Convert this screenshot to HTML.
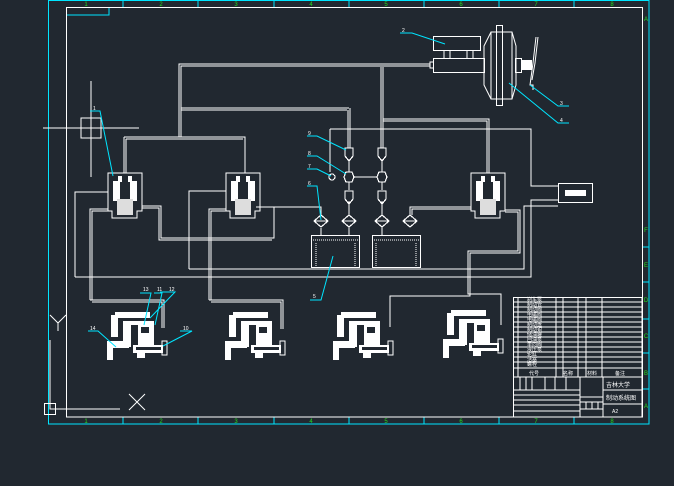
<!DOCTYPE html>
<html><head><meta charset="utf-8"><style>
html,body{margin:0;padding:0;background:#212830;}
svg{display:block}
text{font-family:"Liberation Sans","Noto Sans CJK SC",sans-serif;}
</style></head><body>
<svg width="674" height="486" viewBox="0 0 674 486" xmlns="http://www.w3.org/2000/svg">
<rect width="674" height="486" fill="#212830"/>
<g shape-rendering="crispEdges">
<!-- frames -->
<g fill="none" stroke="#00e5ff" stroke-width="1.2">
<rect x="48.5" y="0.5" width="600.5" height="423.5"/>
<path d="M109,7V15H66.5"/>
<path d="M123,0V7M198,0V7M274,0V7M349,0V7M424,0V7M499,0V7M574,0V7"/>
<path d="M123,417V424M198,417V424M274,417V424M349,417V424M424,417V424M499,417V424M574,417V424"/>
<path d="M642,247H649M642,282H649M642,319H649M642,353H649M642,389H649"/>
</g>
<rect x="66.5" y="7.5" width="576" height="409.5" fill="none" stroke="#fff" stroke-width="1"/>
<!-- crosshair etc -->
<g stroke="#fff" fill="none" stroke-width="1">
<path d="M43,128H139M91,81V177"/><rect x="81" y="118" width="20" height="20"/>
<path d="M50,340V409H120"/><rect x="44.5" y="403.5" width="11" height="11"/>
</g>
<!-- pipes -->
<g stroke="#fff" fill="none" stroke-width="1">
<path d="M179,137V64H430M181,137V66H430M181,108H349M181,110H347"/>
<path d="M348,110V148M350,108V148"/>
<path d="M124,137V173M126,139V173M124,137H245V173M126,139H243"/>
<path d="M381,67V148M383,67V148M383,119H489V173M383,121H487V173"/>
<path d="M330,129H531V186H558M330,129V172"/>
<path d="M349,160V172M349,182V190M349,201V215M349,227V235M382,160V172M382,182V190M382,201V215M382,227V235M354,177H377"/>
<path d="M75,277V192H108M189,269V191H226M75,277H531V200H558M189,269H524V206H558"/>
<path d="M90,300V209H108M92,300V211H108M90,300H164V328M92,302H162V328"/>
<path d="M142,206H161V238H274V207H256M142,208H159V240H272"/>
<path d="M209,300V209H226M211,300V211H226M209,300H283V329M211,302H281V329"/>
<path d="M256,207H321V215M321,228V235M410,215V207H471M412,215V209H471"/>
<path d="M505,210H520V253H470V296H390V327M505,212H518V251H468V294H501V325"/>
</g>
<!-- solenoids -->
<g id="sol">
<path d="M108,173H142V211H137V218H112V211H108Z" fill="none" stroke="#fff"/>
<rect x="113" y="181" width="24" height="20" fill="#fff"/>
<rect x="120" y="181" width="10" height="19" fill="#212830"/>
<rect x="117" y="199" width="16" height="16" fill="#ddd"/>
<rect x="118" y="176" width="4" height="6" fill="#fff"/><rect x="128" y="176" width="4" height="6" fill="#fff"/>
</g>
<use href="#sol" transform="translate(118,0)"/>
<use href="#sol" transform="translate(363,0)"/>
<!-- valves -->
<g fill="none" stroke="#fff" stroke-width="1.2">
<g id="vcol">
<path d="M345,148H353V156L349,161L345,156Z"/>
<path d="M344,177L346,172H352L354,177L352,182H346Z"/>
<path d="M345,191H353V199L349,204L345,199Z"/>
<path d="M342,221L349,215L356,221L349,227Z M342,221H356"/>
</g>
<use href="#vcol" transform="translate(33,0)"/>
<path d="M314,221L321,215L328,221L321,227Z M314,221H328"/>
<path d="M403,221L410,215L417,221L410,227Z M403,221H417"/>
<circle cx="332" cy="177" r="3"/>
<rect x="311.5" y="235.5" width="48" height="32"/>
<rect x="372.5" y="235.5" width="48" height="32"/>
<path d="M311,240H359M372,240H420M316,243V267M355,243V267M376,243V267M416,243V267" stroke-dasharray="1 1"/>
</g>
<!-- ECU -->
<rect x="558.5" y="183.5" width="34" height="19" fill="none" stroke="#fff"/>
<rect x="565" y="190" width="21" height="6" fill="#fff"/>
<!-- master cylinder + booster -->
<g fill="none" stroke="#fff" stroke-width="1">
<rect x="433.5" y="36.5" width="47" height="14"/>
<rect x="433.5" y="58.5" width="51" height="14"/>
<rect x="430" y="62" width="3.5" height="6"/>
<path d="M444,50V58M450,50V58M467,50V58M473,50V58"/>
<rect x="496.5" y="25.5" width="6" height="80"/>
<rect x="515.5" y="58.5" width="6" height="14"/>
</g>
<rect x="521" y="60" width="11" height="10" fill="#fff"/>
<!-- calipers -->
<g id="cal" fill="#fff">
<rect x="115" y="312" width="35" height="6"/>
<rect x="111" y="315" width="7" height="22"/>
<rect x="123" y="321" width="8" height="26"/>
<rect x="123" y="321" width="18" height="4"/>
<rect x="107" y="341" width="22" height="7"/>
<rect x="107" y="341" width="6" height="19"/>
<rect x="138" y="321" width="16" height="25"/>
<rect x="141" y="327" width="8" height="6" fill="#212830"/>
<rect x="133" y="345" width="30" height="8"/>
<rect x="136" y="347" width="25" height="3" fill="#212830"/>
<rect x="162" y="341" width="5" height="14" fill="none" stroke="#fff"/>
<rect x="137" y="353" width="8" height="5"/>
</g>
<use href="#cal" transform="translate(118,0)"/>
<use href="#cal" transform="translate(226,0)"/>
<use href="#cal" transform="translate(336,-2)"/>
<!-- title block -->
<g stroke="#fff" fill="none" stroke-width="1">
<rect x="513.5" y="297.5" width="128.5" height="119.5"/>
<path d="M513,302H642M513,307H642M513,312H642M513,317H642M513,322H642M513,327H642M513,332H642M513,337H642M513,342H642M513,347H642M513,352H642M513,357H642M513,362H642M513,368H642M513,377H642"/>
<path d="M518,297V377M556,297V377M563,297V377M578,297V377M586,297V377M602,297V377"/>
<path d="M580,377V417M603,377V417M603,390H642M603,404H642"/>
<path d="M513,390H580M513,395H580M513,400H580M513,405H580M513,411H580"/>
<path d="M520,377V390M526,377V390M532,377V390M545,377V390M555,377V390M566,377V390"/>
<path d="M580,397H603M580,402H603M580,409H603M586,402V409M592,402V409M598,402V409"/>
</g>
</g>
<g fill="#22dd22" font-size="6" text-anchor="middle">
<text x="86" y="6">1</text><text x="161" y="6">2</text><text x="236" y="6">3</text><text x="311" y="6">4</text><text x="386" y="6">5</text><text x="461" y="6">6</text><text x="536" y="6">7</text><text x="612" y="6">8</text>
<text x="86" y="423">1</text><text x="161" y="423">2</text><text x="236" y="423">3</text><text x="311" y="423">4</text><text x="386" y="423">5</text><text x="461" y="423">6</text><text x="536" y="423">7</text><text x="612" y="423">8</text>
<text x="646" y="21">A</text><text x="646" y="232">F</text><text x="646" y="267">E</text><text x="646" y="302">D</text><text x="646" y="338">C</text><text x="646" y="375">B</text><text x="646" y="408">A</text>
</g>
<g stroke="#fff" fill="none" stroke-width="1">
<path d="M50,315L58,323L66,315M58,323V331"/>
<path d="M129,394L145,410M145,394L129,410"/>
<path d="M484,46L491,32H512L516,46V85L512,99H491L484,85Z"/>
<path d="M491,32V99M512,32V99"/>
<path d="M536,37L533,63L530,85H533V90"/>
<path d="M538,37L535,63L532,80"/>
</g>
<!-- leaders -->
<g stroke="#00e5ff" fill="none" stroke-width="1">
<path d="M90,111H100L113,176"/>
<path d="M307,136H317L346,150M307,156H317L346,174M307,169H317L331,176M307,186H317L321,220"/>
<path d="M400,33H412L445,44M530,85L558,106H569M509,83L558,123H569"/>
<path d="M310,300H321L333,256"/>
<path d="M88,331H98L116,347M180,331H192L163,346M140,293H151L144,325M154,293H162L155,325M160,292H175L150,318"/>
</g>
<g fill="#fff" font-size="5">
<text x="93" y="110">1</text><text x="308" y="135">9</text><text x="308" y="155">8</text><text x="308" y="168">7</text><text x="308" y="185">6</text>
<text x="402" y="32">2</text><text x="560" y="105">3</text><text x="560" y="122">4</text><text x="313" y="298">5</text>
<text x="90" y="330">14</text><text x="183" y="330">10</text><text x="143" y="291">13</text><text x="157" y="291">11</text><text x="169" y="291">12</text>
</g>
<g fill="#fff" font-size="5">
<text x="527" y="301">刹车泵</text><text x="527" y="306">制动管</text><text x="527" y="311">制动阀</text><text x="527" y="316">电磁阀</text><text x="527" y="321">电磁阀</text><text x="527" y="326">制动盘</text><text x="527" y="331">制动钳</text><text x="527" y="336">储油罐</text><text x="527" y="341">回油泵</text><text x="527" y="346">单向阀</text><text x="527" y="351">液压泵</text><text x="527" y="356">轮缸</text><text x="527" y="361">活塞</text><text x="527" y="366">螺栓</text>
<text x="529" y="375">代号</text><text x="563" y="375">名称</text><text x="587" y="375">材料</text><text x="615" y="375">备注</text>
<text x="606" y="387" font-size="6">吉林大学</text><text x="606" y="400" font-size="6">制动系统图</text><text x="612" y="413">A2</text>
</g>
</svg>
</body></html>
